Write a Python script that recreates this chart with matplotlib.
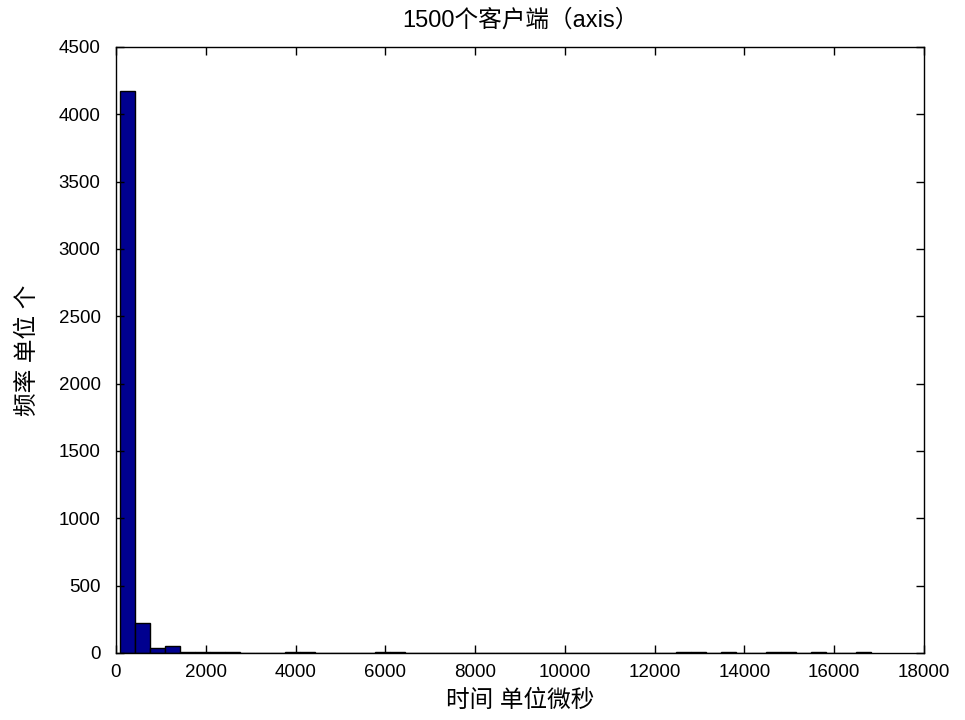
import numpy as np
import matplotlib
matplotlib.use("Agg")
import matplotlib.pyplot as plt

plt.rcParams['font.family'] = ['Liberation Sans', 'Noto Sans CJK SC', 'DejaVu Sans']

# 直方图数据 (50 个区间)
bin_lo = 83
bin_hi = 16820
counts = [4170, 225, 39, 54, 6, 5, 4, 4, 3, 3,
          0, 10, 9, 0, 0, 0, 0, 8, 9, 0,
          0, 0, 0, 0, 0, 0, 0, 0, 0, 0,
          0, 0, 0, 0, 0, 0, 0, 10, 9, 0,
          8, 0, 0, 9, 8, 0, 8, 0, 0, 7]
x_ticks = [0, 2000, 4000, 6000, 8000, 10000, 12000, 14000, 16000, 18000]
y_ticks = [0, 500, 1000, 1500, 2000, 2500, 3000, 3500, 4000, 4500]

title = "1500个客户端（axis）"
xlabel = "时间 单位微秒"
ylabel = "频率 单位 个"

edges = np.linspace(bin_lo, bin_hi, len(counts) + 1)
widths = np.diff(edges)

fig = plt.figure(figsize=(9.65, 7.2), dpi=100)
ax = fig.add_axes([0.1202, 0.0931, 0.8373, 0.8417])

ax.bar(edges[:-1], counts, width=widths, align='edge',
       color=(0, 0, 0.5625), edgecolor='black', linewidth=1)

ax.set_xlim(0, 18000)
ax.set_ylim(0, 4500)
ax.set_xticks(x_ticks)
ax.set_yticks(y_ticks)
ax.tick_params(direction='in', length=6, width=1, top=True, right=True,
               labelsize=13.5)
ax.tick_params(axis='y', pad=11)
ax.tick_params(axis='x', pad=8)
for s in ax.spines.values():
    s.set_linewidth(1)

ax.set_title(title, fontsize=17, pad=15)
ax.set_xlabel(xlabel, fontsize=17, labelpad=6)
ax.set_ylabel(ylabel, fontsize=17, labelpad=14)

fig.savefig("out.png", dpi=100)
